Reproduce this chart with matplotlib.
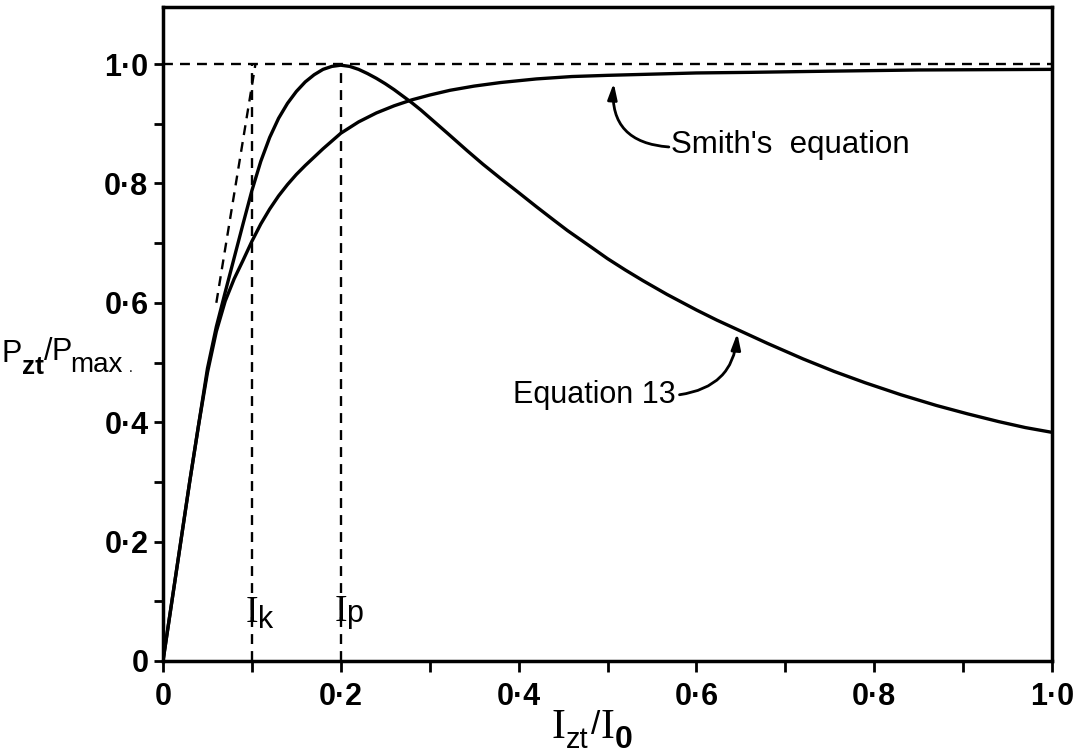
import matplotlib
matplotlib.use("Agg")
import matplotlib.pyplot as plt

# ---- data ----
smith_x = [0, 0.01, 0.02, 0.03, 0.04, 0.05, 0.06, 0.07, 0.08, 0.09, 0.10, 0.11, 0.12,
           0.13, 0.14, 0.15, 0.16, 0.17, 0.18, 0.19, 0.20, 0.22, 0.24, 0.26, 0.28, 0.30,
           0.323, 0.35, 0.38, 0.42, 0.46, 0.50, 0.55, 0.60, 0.66, 0.75, 0.85, 1.0]
smith_y = [0, 0.10, 0.20, 0.30, 0.395, 0.483, 0.552, 0.603, 0.640, 0.671, 0.703, 0.732, 0.757,
           0.779, 0.798, 0.815, 0.830, 0.844, 0.858, 0.871, 0.884, 0.903, 0.918, 0.930, 0.940, 0.948,
           0.956, 0.963, 0.969, 0.975, 0.979, 0.981, 0.983, 0.985, 0.986, 0.988, 0.990, 0.991]

eq13_x = [0, 0.01, 0.02, 0.03, 0.04, 0.05, 0.06, 0.07, 0.08, 0.09, 0.10, 0.11, 0.12,
          0.13, 0.14, 0.15, 0.16, 0.17, 0.18, 0.19, 0.20, 0.21, 0.22, 0.23, 0.24, 0.25,
          0.26, 0.27, 0.28, 0.29, 0.30, 0.32, 0.342, 0.36, 0.38, 0.398, 0.42, 0.44, 0.455,
          0.48, 0.50, 0.52, 0.54, 0.567, 0.60, 0.623, 0.661, 0.68, 0.72, 0.755, 0.79,
          0.83, 0.87, 0.905, 0.94, 0.97, 1.0]
eq13_y = [0, 0.10, 0.20, 0.30, 0.395, 0.49, 0.56, 0.618, 0.675, 0.732, 0.788, 0.837, 0.877,
          0.909, 0.934, 0.954, 0.970, 0.982, 0.991, 0.996, 0.998, 0.996, 0.991, 0.984, 0.976, 0.967,
          0.957, 0.946, 0.935, 0.923, 0.910, 0.884, 0.855, 0.832, 0.808, 0.787, 0.761, 0.738, 0.721,
          0.695, 0.674, 0.655, 0.637, 0.614, 0.588, 0.571, 0.545, 0.532, 0.506, 0.485, 0.466,
          0.446, 0.428, 0.414, 0.401, 0.391, 0.383]

I_k = 0.1
I_p = 0.2
P_ref = 1.0
tangent_x = [0.06, 0.104]
tangent_y = [0.60, 1.0]

xticks_major = [0, 0.2, 0.4, 0.6, 0.8, 1.0]
xtick_labels = ["0", "0\u00b72", "0\u00b74", "0\u00b76", "0\u00b78", "1\u00b70"]
yticks_major = [0, 0.2, 0.4, 0.6, 0.8, 1.0]
ytick_labels = ["0", "0\u00b72", "0\u00b74", "0\u00b76", "0\u00b78", "1\u00b70"]
minor_ticks = [0.1, 0.3, 0.5, 0.7, 0.9]

W, H = 1084, 754
fig = plt.figure(figsize=(W / 100, H / 100), dpi=100)
x0, x1, yb, yt = 163, 1052, 661, 6.5
ax = fig.add_axes([x0 / W, 1 - yb / H, (x1 - x0) / W, (yb - yt) / H])
ax.set_xlim(0, 1.0)
ax.set_ylim(0, (yb - yt) / 597.0)

SANS = "Liberation Sans"
SERIF = "Liberation Serif"

for s in ax.spines.values():
    s.set_linewidth(2.5)

ax.plot(smith_x, smith_y, color="black", lw=2.4, solid_capstyle="round",
        solid_joinstyle="round", zorder=3)
ax.plot(eq13_x, eq13_y, color="black", lw=2.4, solid_capstyle="round",
        solid_joinstyle="round", zorder=3)

dash = dict(color="black", lw=1.7, dashes=(4.2, 3.0), zorder=2)
ax.plot([0, 1.0], [P_ref, P_ref], **dash)
ax.plot([I_k, I_k], [0, P_ref], **dash)
ax.plot([I_p, I_p], [0, P_ref], **dash)
ax.plot(tangent_x, tangent_y, **dash)

ax.set_xticks(xticks_major)
ax.set_xticklabels(xtick_labels)
ax.set_yticks(yticks_major)
ax.set_yticklabels(ytick_labels)
ax.set_xticks(minor_ticks, minor=True)
ax.set_yticks([0.1, 0.3, 0.5, 0.7, 0.9], minor=True)
ax.tick_params(axis="x", which="both", direction="out", length=8, width=2.0, pad=7)
ax.tick_params(axis="y", which="both", direction="out", length=6.5, width=2.0, pad=4)
for lab in ax.get_xticklabels() + ax.get_yticklabels():
    lab.set_fontfamily(SANS)
    lab.set_fontweight("bold")
    lab.set_fontsize(22)

# I_k and I_p labels
ax.text(I_k, 0.065, "I", ha="center", va="baseline", fontsize=27, family=SERIF)
ax.text(0.107, 0.055, "k", ha="left", va="baseline", fontsize=22, family=SANS)
ax.text(I_p, 0.067, "I", ha="center", va="baseline", fontsize=27, family=SERIF)
ax.text(0.206, 0.066, "p", ha="left", va="baseline", fontsize=22, family=SANS)

# annotations
arrow_style = "-|>,head_length=0.95,head_width=0.28"
ax.text(0.571, 0.851, "Smith's  equation", fontsize=22.5, family=SANS, ha="left", va="baseline")
ax.annotate("", xy=(0.507, 0.968), xytext=(0.569, 0.861),
            arrowprops=dict(arrowstyle=arrow_style,
                            connectionstyle="arc3,rad=-0.5", lw=2.0, color="black",
                            shrinkA=0, shrinkB=0))
ax.text(0.394, 0.432, "Equation 13", fontsize=22, family=SANS, ha="left", va="baseline")
ax.annotate("", xy=(0.646, 0.549), xytext=(0.581, 0.446),
            arrowprops=dict(arrowstyle=arrow_style,
                            connectionstyle="arc3,rad=0.4", lw=2.0, color="black",
                            shrinkA=0, shrinkB=0))

# y label pieces (figure pixel coordinates)
def ftext(px, py, s, **kw):
    fig.text(px / W, 1 - py / H, s, **kw)

ftext(2, 362, "P", fontsize=22, family=SANS, va="baseline")
ftext(22, 374, "zt", fontsize=19, family=SANS, weight="bold", va="baseline")
ftext(44, 360, "/", fontsize=22, family=SANS, va="baseline")
ftext(52, 360, "P", fontsize=22, family=SANS, va="baseline")
ftext(70, 372, "max", fontsize=20, family=SANS, va="baseline")
ftext(129, 372, ".", fontsize=10, family=SANS, va="baseline")

# x label pieces
ftext(551, 738, "I", fontsize=30, family=SERIF, va="baseline")
ftext(566, 748, "zt", fontsize=21, family=SANS, va="baseline")
ftext(591, 734, "/", fontsize=24, family=SANS, va="baseline")
ftext(601, 738, "I", fontsize=30, family=SERIF, va="baseline")
ftext(615, 748, "0", fontsize=23, family=SANS, weight="bold", va="baseline")

fig.savefig("out.png", dpi=100, facecolor="white")
